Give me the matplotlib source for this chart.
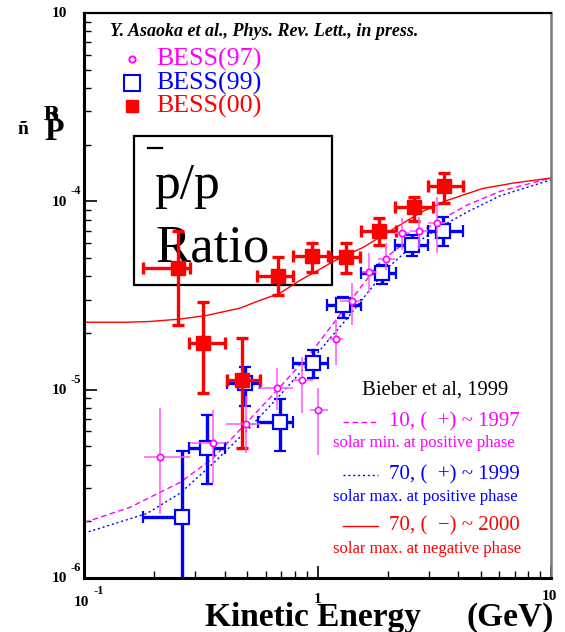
import numpy as np
import matplotlib
matplotlib.use('Agg')
import matplotlib.pyplot as plt
from matplotlib.patches import Rectangle

plt.rcParams['font.family'] = ['Liberation Serif', 'DejaVu Serif']

# BESS(00) - red filled squares
e00 = np.array([0.253, 0.324, 0.475, 0.678, 0.947, 1.32, 1.83, 2.59, 3.48])
e00_lo = np.array([0.179, 0.282, 0.409, 0.551, 0.785, 1.13, 1.53, 2.15, 2.97])
e00_hi = np.array([0.284, 0.402, 0.567, 0.785, 1.11, 1.52, 2.17, 3.13, 4.20])
r00 = np.array([4.4e-5, 1.77e-5, 1.12e-5, 4.0e-5, 5.1e-5, 5.06e-5, 6.95e-5, 9.3e-5, 1.2e-4])
r00_lo = np.array([2.2e-5, 9.6e-6, 4.9e-6, 3.18e-5, 4.2e-5, 4.16e-5, 5.85e-5, 7.85e-5, 9.8e-5])
r00_hi = np.array([7.0e-5, 2.92e-5, 1.87e-5, 5.06e-5, 6.0e-5, 6.0e-5, 8.15e-5, 1.05e-4, 1.41e-4])

# BESS(99) - blue open squares
e99 = np.array([0.263, 0.336, 0.49, 0.69, 0.957, 1.285, 1.89, 2.54, 3.45])
e99_lo = np.array([0.179, 0.282, 0.409, 0.556, 0.785, 1.1, 1.53, 2.15, 2.97])
e99_hi = np.array([0.28, 0.402, 0.567, 0.785, 1.11, 1.53, 2.17, 2.97, 4.2])
r99 = np.array([2.1e-6, 4.9e-6, 1.08e-5, 6.7e-6, 1.38e-5, 2.8e-5, 4.15e-5, 5.85e-5, 7.0e-5])
r99_lo = np.array([8e-7, 3.14e-6, 8.2e-6, 4.7e-6, 1.15e-5, 2.39e-5, 3.63e-5, 5.1e-5, 5.8e-5])
r99_hi = np.array([4.7e-6, 7.3e-6, 1.32e-5, 8.9e-6, 1.62e-5, 3.1e-5, 4.58e-5, 6.6e-5, 8.3e-5])

# BESS(97) - magenta small circles
e97 = np.array([0.211, 0.357, 0.494, 0.671, 0.859, 1.0, 1.2, 1.41, 1.66, 1.96, 2.30, 2.72, 3.25])
e97_lo = np.array([0.181, 0.284, 0.405, 0.556, 0.785, 0.93, 1.11, 1.25, 1.55, 1.82, 2.15, 2.5, 2.97])
e97_hi = np.array([0.284, 0.402, 0.567, 0.785, 0.957, 1.11, 1.29, 1.55, 1.80, 2.15, 2.5, 2.97, 3.5])
r97 = np.array([4.4e-6, 5.2e-6, 6.6e-6, 1.02e-5, 1.12e-5, 7.8e-6, 1.85e-5, 2.95e-5, 4.2e-5, 4.93e-5, 6.78e-5, 6.95e-5, 7.65e-5])
r97_lo = np.array([2.2e-6, 3.18e-6, 4.6e-6, 7.8e-6, 7.5e-6, 4.5e-6, 1.35e-5, 2.2e-5, 3.25e-5, 4.3e-5, 5.5e-5, 5.6e-5, 5.3e-5])
r97_hi = np.array([8.0e-6, 7.8e-6, 9.3e-6, 1.3e-5, 1.49e-5, 1.02e-5, 2.34e-5, 3.67e-5, 5.3e-5, 6.0e-5, 8.15e-5, 8.3e-5, 1.05e-4])

# Bieber et al 1999 model curves
m_e_a = [0.1, 0.157, 0.258, 0.357, 0.499, 0.690, 0.957, 1.34, 1.85, 2.57, 3.35, 4.37, 6.05, 10]
m_r_a = [1.97e-6, 2.37e-6, 3.22e-6, 4.32e-6, 6.71e-6, 1.03e-5, 1.62e-5, 2.81e-5, 4.75e-5, 6.53e-5, 7.94e-5, 9.55e-5, 1.13e-4, 1.33e-4]
m_e_b = [0.1, 0.186, 0.258, 0.357, 0.499, 0.690, 0.957, 1.34, 1.99, 2.57, 3.35, 4.37, 6.05, 10]
m_r_b = [1.73e-6, 2.2e-6, 2.82e-6, 4.06e-6, 6.08e-6, 9.33e-6, 1.47e-5, 2.39e-5, 4.42e-5, 5.85e-5, 7.3e-5, 8.77e-5, 1.07e-4, 1.30e-4]
m_e_c = [0.1, 0.15, 0.19, 0.258, 0.336, 0.466, 0.567, 0.69, 0.84, 1.02, 1.17, 1.57, 2.18, 2.8, 3.58, 5.1, 6.9, 10]
m_r_c = [2.28e-5, 2.28e-5, 2.3e-5, 2.37e-5, 2.48e-5, 2.71e-5, 2.98e-5, 3.25e-5, 3.8e-5, 4.35e-5, 4.8e-5, 5.7e-5, 7.3e-5, 8.8e-5, 1.01e-4, 1.17e-4, 1.25e-4, 1.33e-4]

MAG = '#ff00ff'
BLU = '#0000ff'
RED = '#ff0000'

W, H = 565, 632
L, R, T, B = 84, 551, 13, 578

fig = plt.figure(figsize=(W / 100, H / 100), dpi=100)
ax = fig.add_axes([L / W, 1 - B / H, (R - L) / W, (B - T) / H])
ax.set_xscale('log')
ax.set_yscale('log')
ax.set_xlim(0.1, 10)
ax.set_ylim(1e-6, 1e-3)


def ax_x(p):
    return (p - L) / (R - L)


def ax_y(p):
    return (B - p) / (B - T)


# model curves
ax.plot(m_e_a, m_r_a, color=MAG, lw=1.0, dashes=(4, 2.5), zorder=2)
ax.plot(m_e_b, m_r_b, color=BLU, lw=1.0, dashes=(1.5, 2), zorder=2)
ax.plot(m_e_c, m_r_c, color=RED, lw=1.0, zorder=2)

# data
ax.errorbar(e99, r99, xerr=[e99 - e99_lo, e99_hi - e99], yerr=[r99 - r99_lo, r99_hi - r99],
            fmt='s', ms=10.5, mfc='white', mec=BLU, mew=1.6, ecolor=BLU,
            elinewidth=2.4, capsize=4.5, capthick=2.4, zorder=3)
ax.errorbar(e00, r00, xerr=[e00 - e00_lo, e00_hi - e00], yerr=[r00 - r00_lo, r00_hi - r00],
            fmt='s', ms=10.5, color=RED, ecolor=RED,
            elinewidth=2.4, capsize=4.5, capthick=2.4, zorder=4)
ax.errorbar(e97, r97, xerr=[e97 - e97_lo, e97_hi - e97], yerr=[r97 - r97_lo, r97_hi - r97],
            fmt='o', ms=4.5, mfc='white', mec=MAG, mew=1.2, ecolor='#ff55ff',
            elinewidth=1.1, capsize=0, zorder=5)

# axes styling
for s in ['left', 'bottom', 'top']:
    ax.spines[s].set_color('black')
ax.spines['left'].set_linewidth(2.2)
ax.spines['bottom'].set_linewidth(2.2)
ax.spines['top'].set_linewidth(1.6)
ax.spines['right'].set_color('#777777')
ax.spines['right'].set_linewidth(1.8)
ax.tick_params(which='both', direction='in', top=False, right=False,
               labelleft=False, labelbottom=False, color='black')
ax.tick_params(which='major', length=9, width=1.2)
ax.tick_params(which='minor', length=5, width=1.0)

# tick labels
tk = dict(fontweight='bold', color='black', annotation_clip=False)
for yv, ex in [(1e-3, ''), (1e-4, '-4'), (1e-5, '-5'), (1e-6, '-6')]:
    ax.annotate('10', xy=(0, yv), xycoords=('axes fraction', 'data'), xytext=(-12.2, -0.7),
                textcoords='offset points', ha='right', va='center', fontsize=11, **tk)
    if ex:
        ax.annotate(ex, xy=(0, yv), xycoords=('axes fraction', 'data'), xytext=(-9.6, 7.2),
                    textcoords='offset points', ha='left', va='center', fontsize=9, **tk)
ax.annotate('10', xy=(0.1, 0), xycoords=('data', 'axes fraction'), xytext=(-2.2, -17.3),
            textcoords='offset points', ha='center', va='center', fontsize=11, **tk)
ax.annotate('-1', xy=(0.1, 0), xycoords=('data', 'axes fraction'), xytext=(6.5, -9.4),
            textcoords='offset points', ha='left', va='center', fontsize=9, **tk)
ax.annotate('1', xy=(1, 0), xycoords=('data', 'axes fraction'), xytext=(0.3, -15.8),
            textcoords='offset points', ha='center', va='center', fontsize=11, **tk)
ax.annotate('10', xy=(10, 0), xycoords=('data', 'axes fraction'), xytext=(-6.5, -13.0),
            textcoords='offset points', ha='left', va='center', fontsize=11, **tk)

# axis titles
fig.text(205 / W, 1 - 626 / H, 'Kinetic Energy', fontsize=24, fontweight='bold', va='baseline')
fig.text(467 / W, 1 - 626 / H, '(GeV)', fontsize=24, fontweight='bold', va='baseline')
fig.text(18 / W, 1 - 134 / H, 'ñ', fontsize=14, fontweight='bold', va='baseline')
fig.text(44 / W, 1 - 140 / H, 'P', fontsize=23, fontweight='bold', va='baseline')
fig.text(44 / W, 1 - 120 / H, 'B', fontsize=16, fontweight='bold', va='baseline')
fig.text(44 / W, 1 - 120 / H, 'R', fontsize=16, fontweight='bold', va='baseline')

# header and legend
ax.text(ax_x(110), ax_y(32), 'Y. Asaoka et al., Phys. Rev. Lett., in press.', transform=ax.transAxes,
        fontsize=13, fontweight='bold', fontstyle='italic', va='center')
legend_rows = [('BESS(97)', MAG, 59), ('BESS(99)', BLU, 83), ('BESS(00)', RED, 106)]
ax.plot([ax_x(132)], [ax_y(59)], 'o', ms=4.5, mfc='white', mec=MAG, mew=1.4,
        transform=ax.transAxes, clip_on=False)
ax.plot([ax_x(132)], [ax_y(83)], 's', ms=11, mfc='white', mec=BLU, mew=1.5,
        transform=ax.transAxes, clip_on=False)
ax.plot([ax_x(132)], [ax_y(106)], 's', ms=9, color=RED, transform=ax.transAxes, clip_on=False)
for lab, col, yy in legend_rows:
    ax.text(ax_x(156), ax_y(yy), lab, color=col, fontsize=18.7, va='center', transform=ax.transAxes)

# ratio box
ax.add_patch(Rectangle((ax_x(134), ax_y(285)), ax_x(332) - ax_x(134), ax_y(136) - ax_y(285),
                       transform=ax.transAxes, fill=False, ec='black', lw=1.6, zorder=1))
ax.plot([ax_x(148), ax_x(162)], [ax_y(148), ax_y(148)], color='black', lw=1.6, transform=ax.transAxes)
ax.text(ax_x(154), ax_y(198), 'p/p', fontsize=37, va='baseline', transform=ax.transAxes, zorder=1)
ax.text(ax_x(155), ax_y(262), 'Ratio', fontsize=38, va='baseline', transform=ax.transAxes, zorder=1)

# model legend
ax.text(ax_x(362), ax_y(390), 'Bieber et al, 1999', fontsize=14.9, va='center', transform=ax.transAxes)
model_rows = [
    (422, 443, MAG, dict(dashes=(4, 2.5)), '10, (  +) ~ 1997', 'solar min. at positive phase'),
    (475, 497, BLU, dict(dashes=(1.5, 2)), '70, (  +) ~ 1999', 'solar max. at positive phase'),
    (526, 549, RED, dict(), '70, (  \u2212) ~ 2000', 'solar max. at negative phase'),
]
for y1, y2, col, st, t1, t2 in model_rows:
    ax.plot([ax_x(343), ax_x(378)], [ax_y(y1), ax_y(y1)], color=col, lw=1.0,
            transform=ax.transAxes, **st)
    ax.text(ax_x(389), ax_y(y1), t1, color=col, fontsize=15, va='center', transform=ax.transAxes)
    ax.text(ax_x(333), ax_y(y2), t2, color=col, fontsize=12, va='center', transform=ax.transAxes)

plt.savefig('out.png', dpi=100)
